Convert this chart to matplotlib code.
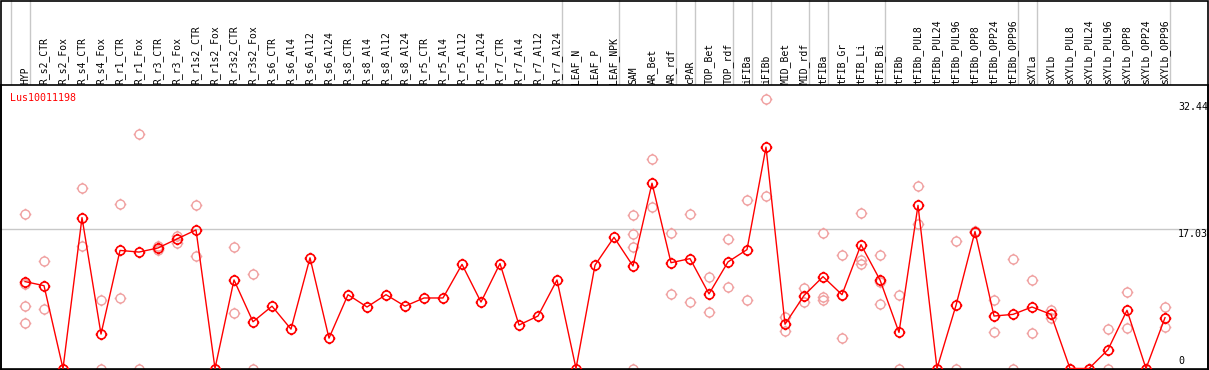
import matplotlib
matplotlib.use('Agg')
import matplotlib.pyplot as plt
from matplotlib.path import Path
from matplotlib.transforms import blended_transform_factory

gene = 'Lus10011198'

samples = ['HYP', 'R_s2_CTR', 'R_s2_Fox', 'R_s4_CTR', 'R_s4_Fox', 'R_r1_CTR', 'R_r1_Fox',
           'R_r3_CTR', 'R_r3_Fox', 'R_r1s2_CTR', 'R_r1s2_Fox', 'R_r3s2_CTR', 'R_r3s2_Fox',
           'R_s6_CTR', 'R_s6_Al4', 'R_s6_Al12', 'R_s6_Al24', 'R_s8_CTR', 'R_s8_Al4',
           'R_s8_Al12', 'R_s8_Al24', 'R_r5_CTR', 'R_r5_Al4', 'R_r5_Al12', 'R_r5_Al24',
           'R_r7_CTR', 'R_r7_Al4', 'R_r7_Al12', 'R_r7_Al24', 'LEAF_N', 'LEAF_P', 'LEAF_NPK',
           'SAM', 'AR_Bet', 'AR_rdf', 'cPAR', 'TOP_Bet', 'TOP_rdf', 'iFIBa', 'iFIBb',
           'MID_Bet', 'MID_rdf', 'tFIBa', 'tFIB_Gr', 'tFIB_Li', 'tFIB_Bi', 'tFIBb',
           'tFIBb_PUL8', 'tFIBb_PUL24', 'tFIBb_PUL96', 'tFIBb_OPP8', 'tFIBb_OPP24',
           'tFIBb_OPP96', 'sXYLa', 'sXYLb', 'sXYLb_PUL8', 'sXYLb_PUL24', 'sXYLb_PUL96',
           'sXYLb_OPP8', 'sXYLb_OPP24', 'sXYLb_OPP96']

# mean expression per sample (red line)
means = [10.6, 10.1, 0.0, 18.4, 4.2, 14.4, 14.2, 14.7, 15.8, 16.9, 0.0, 10.8, 5.7,
         7.6, 4.8, 13.5, 3.7, 9.0, 7.5, 9.0, 7.6, 8.6, 8.6, 12.7, 8.1, 12.8, 5.3, 6.4,
         10.8, 0.0, 12.6, 16.0, 12.5, 22.6, 12.9, 13.4, 9.1, 13.0, 14.5, 27.0, 5.4, 8.9,
         11.2, 9.0, 15.1, 10.8, 4.4, 19.9, 0.0, 7.7, 16.7, 6.4, 6.6, 7.5, 6.6, 0.0, 0.0,
         2.3, 7.1, 0.0, 6.2]

# individual replicates (pale circles)
reps = [[18.8, 10.3, 7.6, 5.6], [13.1, 7.2], [0.0], [22.0, 14.9], [8.4, 0.0],
        [20.1, 8.6], [28.6, 0.0], [14.9, 14.4], [16.2, 15.3], [20.0, 13.7], [0.0],
        [14.8, 6.8], [11.5, 0.0], [], [], [], [], [], [], [], [], [], [], [], [], [],
        [], [], [], [], [], [], [18.7, 16.4, 14.8, 0.0], [25.5, 19.7], [16.5, 9.1],
        [18.8, 8.1], [11.2, 6.9], [15.8, 10.0], [20.6, 8.4], [32.9, 21.0], [6.3, 4.6],
        [9.8, 8.1], [16.5, 8.7, 8.4], [13.9, 9.0, 3.7], [19.0, 13.2, 12.8],
        [13.9, 10.5, 7.9], [9.0, 0.0], [22.2, 17.6], [0.0], [15.6, 0.0], [16.8, 16.7],
        [8.35, 4.4], [13.4, 0.0], [10.8, 4.3], [7.1, 6.1], [0.0], [0.0], [4.8, 0.0],
        [9.3, 4.9], [0.0], [7.5, 5.1]]

# sample after which a grey separator is drawn (None = left edge)
separators = [None, 'HYP', 'R_r7_Al24', 'LEAF_NPK', 'AR_rdf', 'cPAR', 'TOP_rdf', 'iFIBa',
              'iFIBb', 'MID_rdf', 'tFIBa', 'tFIB_Bi', 'tFIBb_OPP96', 'sXYLa', 'sXYLb_OPP96']

y_marks = [32.44, 17.03, 0]

W, H = 1209, 370
fig = plt.figure(figsize=(W / 100, H / 100), dpi=100)

# plot region in pixels: x 1..1208, y 85..369
ax = fig.add_axes([1 / W, 1 - 369 / H, 1207 / W, 284 / H])
ax.set_xlim((1 - 25) / 19, (1208 - 25) / 19)
ax.set_ylim((368.5 - 369) / 8.2, (368.5 - 85) / 8.2)
ax.set_xticks([])
ax.set_yticks([])
for s in ax.spines.values():
    s.set_color('black')
    s.set_linewidth(1.2)

# marker: open circle with four little ticks
circ = Path.unit_circle()
ticks = Path([(0, 1), (0, 1.3), (0, -1), (0, -1.3), (1, 0), (1.3, 0), (-1, 0), (-1.3, 0)],
             [Path.MOVETO, Path.LINETO] * 4)
mk = Path.make_compound_path(circ, ticks)

x = list(range(len(samples)))
ax.axhline(y_marks[1], color='#c8c8c8', lw=1.0, zorder=1)

for i, r in enumerate(reps):
    if r:
        ax.plot([i] * len(r), r, linestyle='none', marker=mk, ms=8.4, mfc='none',
                mec='#f0a0a0', mew=1.0, zorder=2)

ax.plot(x, means, color='#ff0000', lw=1.0, marker=mk, ms=8.4, mfc='none',
        mec='#ff0000', mew=1.2, zorder=3)

# separators through header and plot
figx = blended_transform_factory(ax.transData, fig.transFigure)
for s in separators:
    xi = (samples.index(s) if s is not None else -1) + 5.3 / 19
    fig.add_artist(plt.Line2D([xi, xi], [0, 1], transform=figx, color='#c8c8c8',
                              lw=1.0, zorder=0))

# header labels
for i, name in enumerate(samples):
    fig.text(i, 1 - 83.5 / H, name, transform=figx, rotation=90, ha='center',
             va='bottom', family='DejaVu Sans Mono', fontsize=7.0, color='black')

# y labels on the right
ylab = blended_transform_factory(fig.transFigure, ax.transData)
for v in y_marks:
    if v == 0:
        ax.annotate('0', (1178 / W, v), xycoords=ylab, xytext=(0, 2),
                    textcoords='offset pixels', va='bottom', ha='left',
                    family='DejaVu Sans Mono', fontsize=7.2)
    else:
        ax.annotate(f'{v:.2f}', (1178 / W, v), xycoords=ylab, xytext=(0, 0),
                    textcoords='offset pixels', va='top', ha='left',
                    family='DejaVu Sans Mono', fontsize=7.2)

fig.text(10 / W, 1 - 97.7 / H, gene, color='#ff0000', ha='left', va='center',
         family='DejaVu Sans Mono', fontsize=7.2)

# outer border
fig.add_artist(plt.Rectangle((0.5 / W, 0.5 / H), 1207 / W, 1 - 1 / H, transform=fig.transFigure,
                             fill=False, edgecolor='black', lw=1.2))

fig.savefig('out.png', dpi=100)
